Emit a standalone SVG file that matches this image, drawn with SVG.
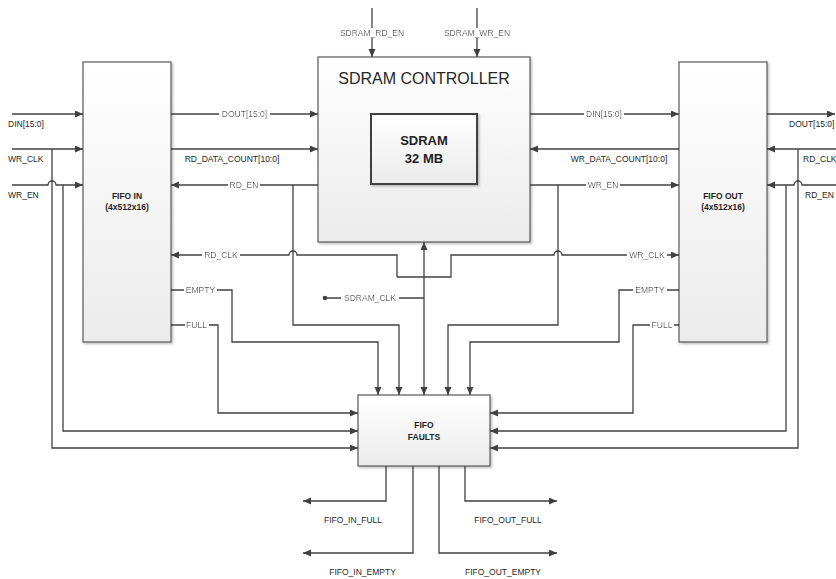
<svg xmlns="http://www.w3.org/2000/svg" width="836" height="579" viewBox="0 0 836 579">
<defs>
<linearGradient id="g" x1="0" y1="0" x2="0" y2="1"><stop offset="0" stop-color="#ffffff"/><stop offset="1" stop-color="#ebebeb"/></linearGradient>
<filter id="sh" x="-0.1" y="-0.1" width="1.2" height="1.2"><feDropShadow dx="1.5" dy="1.5" stdDeviation="1" flood-color="#000" flood-opacity="0.25"/></filter>
<filter id="wbg" x="-0.05" y="0" width="1.1" height="1"><feFlood flood-color="#ffffff"/><feComposite in="SourceGraphic" operator="over"/></filter>
<marker id="ah" markerWidth="9" markerHeight="8" refX="8" refY="3.5" orient="auto" markerUnits="userSpaceOnUse"><path d="M0,0 L8,3.5 L0,7 Z" fill="#404040"/></marker>
<style>
.box{fill:url(#g);stroke:#595959;stroke-width:1.2;filter:url(#sh)}
.inner{fill:url(#g);stroke:#404040;stroke-width:2;filter:url(#sh)}
.ln{fill:none;stroke:#404040;stroke-width:1.3}
.a{marker-end:url(#ah)}
.t{font-family:"Liberation Sans",Arial,sans-serif;font-size:8.5px;fill:#262626}
.b{font-weight:bold;fill:#1f1f1f}
.c{text-anchor:middle}
.bg{filter:url(#wbg)}
.dot{fill:#404040}
</style>
</defs>
<rect width="836" height="579" fill="#ffffff"/>

<g id="fifo-in">
<rect class="box" x="83" y="62" width="88" height="280"/>
<text class="t b c" x="127" y="198.5">FIFO IN</text>
<text class="t b c" x="127" y="210">(4x512x16)</text>
</g>

<g id="sdram-controller">
<rect class="box" x="318" y="57" width="212" height="185"/>
<text class="t c" x="424" y="84" style="font-size:16px">SDRAM CONTROLLER</text>
</g>

<g id="sdram">
<rect class="inner" x="371" y="114" width="106" height="70"/>
<text class="t b c" x="424" y="145" style="font-size:13px">SDRAM</text>
<text class="t b c" x="424" y="163" style="font-size:13px">32 MB</text>
</g>

<g id="fifo-out">
<rect class="box" x="679" y="62" width="88" height="280"/>
<text class="t b c" x="723" y="198.5">FIFO OUT</text>
<text class="t b c" x="723" y="210">(4x512x16)</text>
</g>

<g id="fifo-faults">
<rect class="box" x="358" y="395" width="132" height="71"/>
<text class="t b c" x="424" y="428">FIFO</text>
<text class="t b c" x="424" y="440">FAULTS</text>
</g>

<g id="connectors">
<path class="ln a" d="M372,8 V57"/>
<path class="ln a" d="M477,8 V57"/>
<path class="ln a" d="M12,114 H83"/>
<path class="ln a" d="M12,149 H83"/>
<path class="ln a" d="M12,185 H48 A4,4 0 0 1 56,185 H83"/>
<path class="ln a" d="M52,149 V448 H358"/>
<path class="ln a" d="M63,185 V431 H358"/>
<path class="ln a" d="M171,114 H318"/>
<path class="ln a" d="M171,149 H318"/>
<path class="ln a" d="M318,185 H171"/>
<path class="ln a" d="M293,185 V325 H399 V395"/>
<path class="ln a" d="M397,277 V255 H297 A4,4 0 0 0 289,255 H171"/>
<path class="ln a" d="M397,277 H451 V255 H554 A4,4 0 0 1 562,255 H679"/>
<path class="ln a" d="M171,290 H232 V342 H378 V395"/>
<path class="ln a" d="M171,325 H218 V413 H358"/>
<path class="ln" d="M325,298 H424"/>
<path class="ln a" d="M424,298 V242"/>
<path class="ln a" d="M424,298 V395"/>
<circle class="dot" cx="325" cy="298" r="2.3"/>
<path class="ln a" d="M530,114 H679"/>
<path class="ln a" d="M679,149 H530"/>
<path class="ln a" d="M530,185 H679"/>
<path class="ln a" d="M558,185 V325 H448 V395"/>
<path class="ln a" d="M679,290 H619 V342 H470 V395"/>
<path class="ln a" d="M679,325 H633 V413 H490"/>
<path class="ln a" d="M767,114 H835"/>
<path class="ln a" d="M836,149 H767"/>
<path class="ln a" d="M836,185 H802 A4,4 0 0 0 794,185 H767"/>
<path class="ln a" d="M798,149 V448 H490"/>
<path class="ln a" d="M786,185 V431 H490"/>
<path class="ln a" d="M386,466 V501 H303"/>
<path class="ln a" d="M413,466 V553 H303"/>
<path class="ln a" d="M439,466 V553 H557"/>
<path class="ln a" d="M465,466 V501 H557"/>

<text class="t c bg" x="372" y="36">SDRAM_RD_EN</text>
<text class="t c bg" x="477" y="36">SDRAM_WR_EN</text>
<text class="t" x="8" y="127">DIN[15:0]</text>
<text class="t" x="8" y="162">WR_CLK</text>
<text class="t" x="8" y="198">WR_EN</text>
<text class="t c bg" x="244.5" y="117">DOUT[15:0]</text>
<text class="t c" x="232" y="162">RD_DATA_COUNT[10:0]</text>
<text class="t c bg" x="244" y="188">RD_EN</text>
<text class="t c bg" x="221" y="258">RD_CLK</text>
<text class="t c bg" x="200.5" y="293">EMPTY</text>
<text class="t c bg" x="196.5" y="328">FULL</text>
<text class="t c bg" x="370" y="301">SDRAM_CLK</text>
<text class="t c bg" x="604" y="117">DIN[15:0]</text>
<text class="t c" x="619" y="162">WR_DATA_COUNT[10:0]</text>
<text class="t c bg" x="603" y="188">WR_EN</text>
<text class="t c bg" x="647" y="258">WR_CLK</text>
<text class="t c bg" x="650" y="293">EMPTY</text>
<text class="t c bg" x="662" y="328">FULL</text>
<text class="t" x="789" y="127">DOUT[15:0]</text>
<text class="t" x="803" y="162">RD_CLK</text>
<text class="t" x="805" y="198">RD_EN</text>
<text class="t c" x="353" y="522.5">FIFO_IN_FULL</text>
<text class="t c" x="362.5" y="575">FIFO_IN_EMPTY</text>
<text class="t c" x="503" y="575">FIFO_OUT_EMPTY</text>
<text class="t c" x="508" y="522.5">FIFO_OUT_FULL</text>
</g>
</svg>
